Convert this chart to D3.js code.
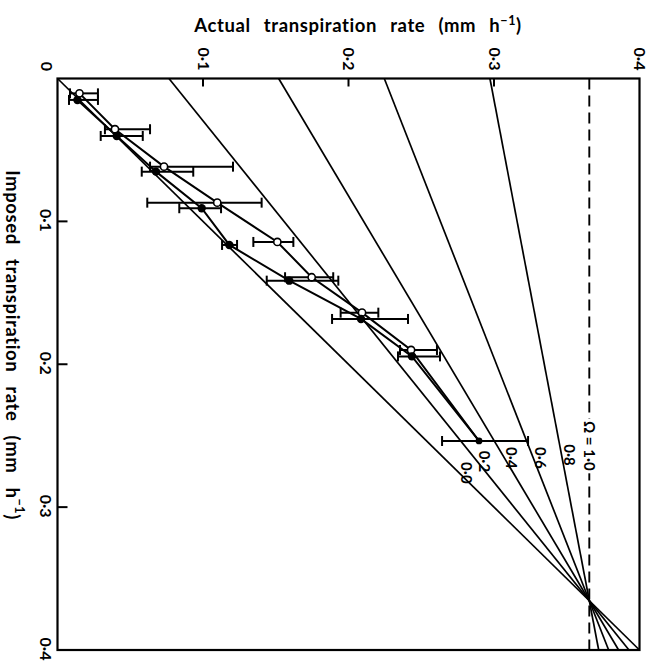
<!DOCTYPE html>
<html>
<head>
<meta charset="utf-8">
<script src="https://cdn.jsdelivr.net/npm/d3@7"></script>
<style>
  body { margin: 0; background: #fff; }
  svg { display: block; }
  text { font-family: Lato, "Open Sans", sans-serif; fill: #000; }
</style>
</head>
<body>
<svg id="chart" width="662" height="664"></svg>
<script>
// ---- data (rates in mm h^-1) ----
const axisTicks = [0.1, 0.2, 0.3, 0.4];
const axisTickLabels = ["0·1", "0·2", "0·3", "0·4"];

// decoupling coefficient lines: actual rate where each meets imposed = 0
const omegaValues = [0.0, 0.2, 0.4, 0.6, 0.8];
const omegaLabels = ["0·0", "0·2", "0·4", "0·6", "0·8"];
const omegaIntercepts = [0.0, 0.0766, 0.152, 0.2246, 0.2972];
const equilibriumRate = 0.3655;   // the Ω = 1·0 line; every Ω line passes through (E, E)

// open-circle series
const openImposed = [0.0104, 0.0355, 0.0617, 0.0869, 0.1144, 0.1391, 0.1639, 0.1900, 0.2537];
const openActual  = [0.0151, 0.0395, 0.0732, 0.1098, 0.1511, 0.1747, 0.2093, 0.2430, 0.2897];
const openLow     = [0.0086, 0.0326, 0.0636, 0.0617, 0.1346, 0.1564, 0.1946, 0.2354, null];
const openHigh    = [0.0278, 0.0636, 0.1206, 0.1403, 0.1621, 0.1895, 0.2205, 0.2608, null];

// filled-circle series
const filledImposed = [0.0150, 0.0402, 0.0652, 0.0908, 0.1165, 0.1415, 0.1683, 0.1945, 0.2537];
const filledActual  = [0.0137, 0.0407, 0.0677, 0.0991, 0.1181, 0.1593, 0.2086, 0.2436, 0.2897];
const filledLow     = [0.0079, 0.0297, 0.0579, 0.0837, 0.1131, 0.1438, 0.1887, 0.2340, 0.2643];
const filledHigh    = [0.0278, 0.0586, 0.0933, 0.1124, 0.1234, 0.1930, 0.2409, 0.2629, 0.3234];

// ---- layout: actual rate runs left→right along the top, imposed rate top→bottom on the left ----
const L = 57.5, R = 639.5, T = 78.5, B = 650;
const x = d3.scaleLinear().domain([0, 0.4]).range([L, R]);   // actual
const y = d3.scaleLinear().domain([0, 0.4]).range([T, B]);   // imposed

const svg = d3.select("#chart");
const plot = svg.append("g");

// Ω lines, from imposed = 0 through the common point and on to imposed = 0·4
const line = d3.line().x(d => x(d[0])).y(d => y(d[1]));
omegaValues.forEach((om, i) => {
  const a0 = omegaIntercepts[i];
  const slope = (equilibriumRate - a0) / equilibriumRate;
  plot.append("path")
    .attr("d", line([[a0, 0], [a0 + slope * 0.4, 0.4]]))
    .attr("fill", "none").attr("stroke", "#000").attr("stroke-width", 1.7);
});

// Ω = 1·0 (dashed)
plot.append("path")
  .attr("d", line([[equilibriumRate, 0], [equilibriumRate, 0.4]]))
  .attr("fill", "none").attr("stroke", "#000").attr("stroke-width", 1.9)
  .attr("stroke-dasharray", "11,6");

// Ω labels placed beside their lines
const labelImposed = [0.276, 0.268, 0.2655, 0.2655, 0.2635];
omegaValues.forEach((om, i) => {
  const a0 = omegaIntercepts[i];
  const slope = (equilibriumRate - a0) / equilibriumRate;
  const iv = labelImposed[i];
  const px = x(a0 + slope * iv) + 8, py = y(iv);
  plot.append("text")
    .attr("transform", `translate(${px},${py}) rotate(90)`)
    .attr("text-anchor", "middle").attr("dominant-baseline", "central")
    .attr("font-size", 15).attr("font-weight", "bold")
    .text(omegaLabels[i]);
});
plot.append("text")
  .attr("transform", `translate(${x(equilibriumRate) + 1},${y(0.2571)}) rotate(90)`)
  .attr("text-anchor", "middle").attr("dominant-baseline", "central")
  .attr("font-size", 15).attr("font-weight", "bold")
  .attr("stroke", "#fff").attr("stroke-width", 6).attr("paint-order", "stroke")
  .text("Ω = 1·0");

// series connecting lines
const openPts = openImposed.map((v, i) => ({ i: v, a: openActual[i], lo: openLow[i], hi: openHigh[i] }));
const filledPts = filledImposed.map((v, i) => ({ i: v, a: filledActual[i], lo: filledLow[i], hi: filledHigh[i] }));
const sLine = d3.line().x(d => x(d.a)).y(d => y(d.i));
[openPts, filledPts].forEach(pts => {
  plot.append("path").attr("d", sLine(pts))
    .attr("fill", "none").attr("stroke", "#000").attr("stroke-width", 2);
});

// horizontal error bars with end caps
function errorBars(pts) {
  const eb = plot.append("g").attr("stroke", "#000").attr("stroke-width", 2);
  pts.filter(d => d.lo != null).forEach(d => {
    const yy = y(d.i);
    eb.append("line").attr("x1", x(d.lo)).attr("x2", x(d.hi)).attr("y1", yy).attr("y2", yy);
    [d.lo, d.hi].forEach(v => {
      eb.append("line").attr("x1", x(v)).attr("x2", x(v)).attr("y1", yy - 5).attr("y2", yy + 5);
    });
  });
}
errorBars(openPts);
errorBars(filledPts);

// markers
plot.append("g").selectAll("circle").data(openPts.slice(0, -1)).join("circle")
  .attr("cx", d => x(d.a)).attr("cy", d => y(d.i)).attr("r", 3.6)
  .attr("fill", "#fff").attr("stroke", "#000").attr("stroke-width", 1.6);
plot.append("g").selectAll("circle").data(filledPts).join("circle")
  .attr("cx", d => x(d.a)).attr("cy", d => y(d.i)).attr("r", (d, i) => i === filledPts.length - 1 ? 3.4 : 4.2)
  .attr("fill", "#000");

// frame
svg.append("rect").attr("x", L).attr("y", T).attr("width", R - L).attr("height", B - T)
  .attr("fill", "none").attr("stroke", "#000").attr("stroke-width", 2.2);

// ticks pointing into the frame
const axes = svg.append("g").attr("stroke", "#000").attr("stroke-width", 2);
axisTicks.slice(0, 3).forEach(v => {
  axes.append("line").attr("x1", x(v)).attr("x2", x(v)).attr("y1", T).attr("y2", T + 8);
  axes.append("line").attr("x1", L).attr("x2", L + 10).attr("y1", y(v)).attr("y2", y(v));
});

// tick labels (rotated a quarter turn)
const tl = svg.append("g").attr("font-size", 16).attr("font-weight", "bold");
axisTicks.forEach((v, i) => {
  tl.append("text")
    .attr("transform", `translate(${x(v) + 1},${T - 8}) rotate(90)`)
    .attr("text-anchor", "end").attr("dominant-baseline", "central")
    .text(axisTickLabels[i]);
  tl.append("text")
    .attr("transform", `translate(${L - 11},${y(v) - 1}) rotate(90)`)
    .attr("text-anchor", "middle").attr("dominant-baseline", "central")
    .text(axisTickLabels[i]);
});
// shared origin
tl.append("text")
  .attr("transform", `translate(${L - 10},${T - 12}) rotate(90)`)
  .attr("text-anchor", "middle").attr("dominant-baseline", "central")
  .text("0");

// axis titles
const titleTop = svg.append("text")
  .attr("x", 358).attr("y", 32).attr("text-anchor", "middle")
  .attr("font-size", 18.5).attr("font-weight", "bold")
  .attr("letter-spacing", 0.6).attr("word-spacing", 8);
titleTop.append("tspan").text("Actual transpiration rate (mm h");
titleTop.append("tspan").attr("dy", -7).attr("font-size", 12.5).text("−1");
titleTop.append("tspan").attr("dy", 7).text(")");

const titleLeft = svg.append("text")
  .attr("transform", `translate(13,345) rotate(90)`)
  .attr("text-anchor", "middle").attr("dominant-baseline", "central")
  .attr("font-size", 18.5).attr("font-weight", "bold")
  .attr("letter-spacing", 0.6).attr("word-spacing", 9);
titleLeft.append("tspan").text("Imposed transpiration rate (mm h");
titleLeft.append("tspan").attr("dy", -7).attr("font-size", 12.5).text("−1");
titleLeft.append("tspan").attr("dy", 7).text(")");
</script>
</body>
</html>
